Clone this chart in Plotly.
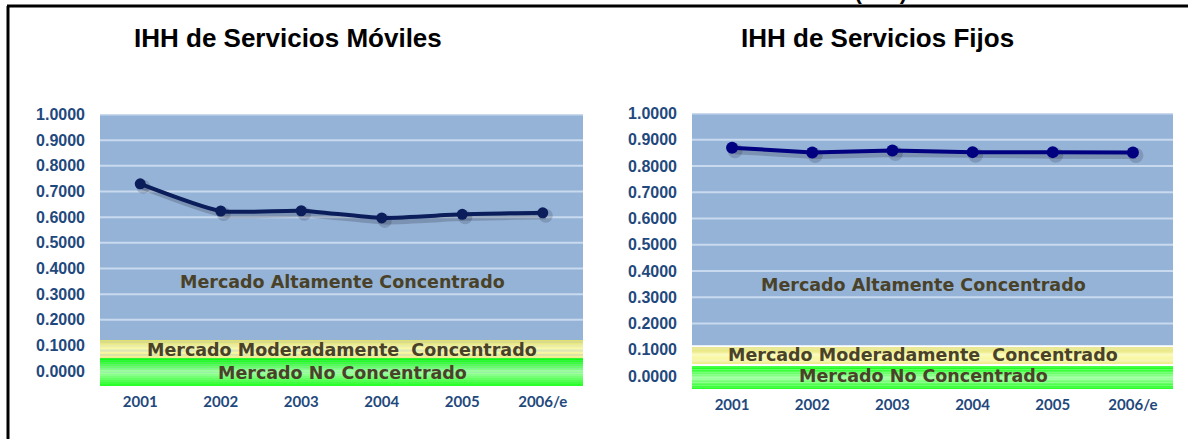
import plotly.graph_objects as go

# ---- data ----
years = ["2001", "2002", "2003", "2004", "2005", "2006/e"]
ihh_moviles = [0.730, 0.624, 0.625, 0.597, 0.611, 0.617]
ihh_fijos = [0.870, 0.852, 0.859, 0.853, 0.853, 0.852]
y_ticks = [0.0, 0.1, 0.2, 0.3, 0.4, 0.5, 0.6, 0.7, 0.8, 0.9, 1.0]
main_title = "Índice de Concentración Hirschman-Herfindahl (IHH)"
sub_titles = ["IHH de Servicios Móviles", "IHH de Servicios Fijos"]
band_labels = ["Mercado Altamente Concentrado", "Mercado Moderadamente  Concentrado", "Mercado No Concentrado"]

W, H = 1188, 439
BLUE = "#95b3d7"
GRID = "#c9daee"
TICK = "#1f497d"
BANDTXT = "#4a4228"

def px_x(p):
    return p / W

def px_y(p):
    return (H - p) / H

fig = go.Figure()

# chart geometry (pixels)
charts = [
    dict(x0=100, x1=583, ytop=114, ybot=386, ymin=-0.058, ids=("", "3", "5"),
         values=ihh_moviles, color="#0b1e5b", shape="spline", msize=11),
    dict(x0=692, x1=1173, ytop=113, ybot=389, ymin=-0.049, ids=("2", "4", "6"),
         values=ihh_fijos, color="#000080", shape="linear", msize=12),
]
YMAX = 1.002
SH = 3  # shadow offset in px

tickfont_y = dict(family="Liberation Sans, Arial", size=16, color=TICK, weight="bold")
tickfont_x = dict(family="Lato", size=15, color=TICK, weight="bold")

layout_axes = {}
for c in charts:
    base, sh, top = c["ids"]
    xdom = [px_x(c["x0"]), px_x(c["x1"])]
    ydom = [px_y(c["ybot"]), px_y(c["ytop"])]
    xr = [-0.5, 5.5]
    yr = [c["ymin"], YMAX]
    dx = SH * 6 / (c["x1"] - c["x0"])
    dy = SH * (YMAX - c["ymin"]) / (c["ybot"] - c["ytop"])
    common = dict(zeroline=False, showline=False, ticks="", showgrid=False,
                  automargin=False, fixedrange=True)
    # base axes carrying the tick labels
    layout_axes["xaxis" + base] = dict(domain=xdom, type="category", range=xr,
                                       anchor="y" + base, tickfont=tickfont_x,
                                       ticklabelstandoff=5, categoryorder="array",
                                       categoryarray=years, **common)
    layout_axes["yaxis" + base] = dict(domain=ydom, range=yr, anchor="x" + base,
                                       tickvals=y_ticks, tickformat=".4f",
                                       tickfont=tickfont_y, ticklabelstandoff=14, **common)
    # shadow axes (shifted a few pixels right/down)
    layout_axes["xaxis" + sh] = dict(domain=xdom, type="category",
                                     range=[xr[0] - dx, xr[1] - dx], overlaying="x" + base,
                                     anchor="y" + sh, showticklabels=False,
                                     categoryorder="array", categoryarray=years, **common)
    layout_axes["yaxis" + sh] = dict(domain=ydom, range=[yr[0] + dy, yr[1] + dy],
                                     overlaying="y" + base, anchor="x" + sh,
                                     showticklabels=False, **common)
    # top axes for the series itself
    layout_axes["xaxis" + top] = dict(domain=xdom, type="category", range=xr,
                                      overlaying="x" + base, anchor="y" + top,
                                      showticklabels=False, categoryorder="array",
                                      categoryarray=years, **common)
    layout_axes["yaxis" + top] = dict(domain=ydom, range=yr, overlaying="y" + base,
                                      anchor="x" + top, showticklabels=False, **common)

    fig.add_trace(go.Scatter(
        x=years, y=c["values"], mode="lines+markers", xaxis="x" + sh, yaxis="y" + sh,
        line=dict(color="rgba(30,30,50,0.22)", width=7, shape=c["shape"], smoothing=0.6),
        marker=dict(size=c["msize"] + 3, color="rgba(30,30,50,0.18)"),
        showlegend=False, hoverinfo="skip"))
    fig.add_trace(go.Scatter(
        x=years, y=c["values"], mode="lines+markers", xaxis="x" + top, yaxis="y" + top,
        line=dict(color=c["color"], width=4, shape=c["shape"], smoothing=0.6),
        marker=dict(size=c["msize"], color=c["color"]), showlegend=False,
        hovertemplate="%{x}: %{y:.4f}<extra></extra>"))

fig.update_layout(width=W, height=H, margin=dict(l=0, r=0, t=0, b=0),
                  paper_bgcolor="white", plot_bgcolor=BLUE, **layout_axes)

# gridlines (drawn as shapes so the bands can cover them)
for xr_, yr_ in [("x domain", "y"), ("x2 domain", "y2")]:
    for v in y_ticks:
        fig.add_shape(type="line", xref=xr_, yref=yr_, x0=0, x1=1, y0=v, y1=v,
                      line=dict(color=GRID, width=2), layer="below")

def hexrgb(h):
    h = h.lstrip("#")
    return tuple(int(h[i:i + 2], 16) for i in (0, 2, 4))

def mix(a, b, t):
    a, b = hexrgb(a), hexrgb(b)
    return "rgb(%d,%d,%d)" % tuple(round(a[i] + (b[i] - a[i]) * t) for i in range(3))

def gradient_band(xref, yref, y0, y1, top, mid, bot, n=14):
    h = (y1 - y0) / n
    for i in range(n):
        ya = y1 - i * h
        yb = ya - h * 1.05
        t = (i + 0.5) / n
        col = mix(top, mid, t * 2) if t < 0.5 else mix(mid, bot, (t - 0.5) * 2)
        fig.add_shape(type="rect", xref=xref, yref=yref, x0=0, x1=1, y0=max(yb, y0), y1=ya,
                      fillcolor=col, line=dict(width=0), layer="below")

YEL = ("#dedd6c", "#fbfbb0", "#eeed8c")
GRN = ("#00ff00", "#a4ffa4", "#22ff22")
# left chart bands
gradient_band("x domain", "y", 0.050, 0.121, *YEL)
gradient_band("x domain", "y", -0.058, 0.050, *GRN)
# right chart bands
fig.add_shape(type="rect", xref="x2 domain", yref="y2", x0=0, x1=1, y0=-0.049, y1=0.118,
              fillcolor="white", line=dict(width=0), layer="below")
gradient_band("x2 domain", "y2", 0.046, 0.110, *YEL)
gradient_band("x2 domain", "y2", -0.049, 0.038, *GRN)

# frame lines
fig.add_shape(type="line", xref="paper", yref="paper", x0=px_x(7), x1=1, y0=px_y(6), y1=px_y(6),
              line=dict(color="black", width=3))
fig.add_shape(type="line", xref="paper", yref="paper", x0=px_x(8), x1=px_x(8), y0=px_y(6), y1=0,
              line=dict(color="black", width=3))

ann = []
# main title, mostly cut off at the top edge as in the reference
ann.append(dict(text="<b>" + main_title + "</b>", xref="paper", yref="paper",
                x=px_x(632), y=px_y(5.5), xanchor="center", yanchor="bottom", showarrow=False,
                font=dict(family="Liberation Sans, Arial", size=22, color="black")))
for txt, cx in zip(sub_titles, [288, 877]):
    ann.append(dict(text="<b>" + txt + "</b>", xref="paper", yref="paper",
                    x=px_x(cx), y=px_y(38), xanchor="center", yanchor="middle", showarrow=False,
                    font=dict(family="Liberation Sans, Arial", size=26, color="black")))
bandfont = dict(family="DejaVu Sans", size=17.5, color=BANDTXT)
for (cx, ys) in [(342, [282, 350, 373]), (923, [285, 355, 376])]:
    for txt, yy in zip(band_labels, ys):
        ann.append(dict(text="<b>" + txt + "</b>", xref="paper", yref="paper",
                        x=px_x(cx), y=px_y(yy), xanchor="center", yanchor="middle",
                        showarrow=False, font=bandfont))
fig.update_layout(annotations=ann)

fig.write_html("out.html", config={"displayModeBar": False},
               post_script="document.body.style.margin='0';document.body.style.overflow='hidden';")
